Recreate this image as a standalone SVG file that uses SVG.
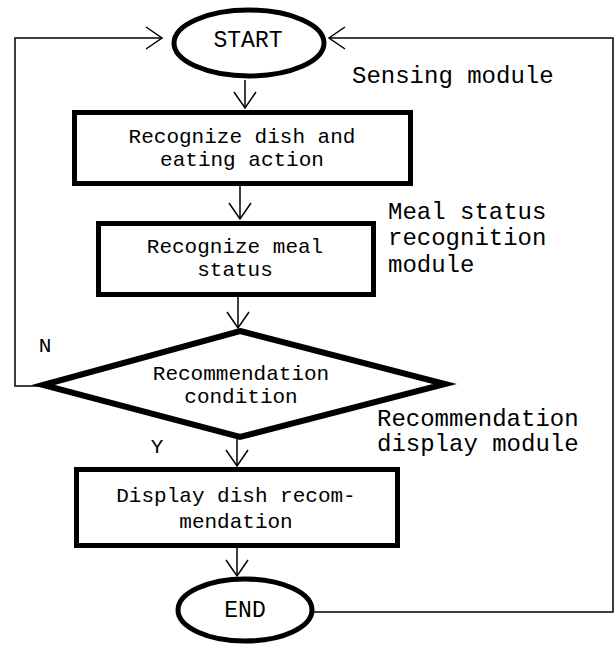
<svg xmlns="http://www.w3.org/2000/svg" width="616" height="646" viewBox="0 0 616 646">
<style>
.bg{fill:#fff}
.shape{fill:#fff;stroke:#000;stroke-width:5}
.dia{fill:#fff;stroke:#000;stroke-width:6;stroke-linejoin:miter}
.conn{fill:none;stroke:#000;stroke-width:1.5}
.t{font-family:"Liberation Mono","Courier New",monospace;font-size:21px;fill:#000;text-anchor:middle}
.tb{font-family:"Liberation Mono","Courier New",monospace;font-size:23px;fill:#000;text-anchor:middle}
.lbl{font-family:"Liberation Mono","Courier New",monospace;font-size:24px;fill:#000}
.yn{font-family:"Liberation Mono","Courier New",monospace;font-size:21px;fill:#000;text-anchor:middle}
</style>
<defs>
<marker id="arr" markerUnits="userSpaceOnUse" markerWidth="20" markerHeight="26" viewBox="-18 -13 20 26" refX="0" refY="0" orient="auto">
<path d="M-16,-11 L0,0 L-16,11" fill="none" stroke="#000" stroke-width="1.5"/>
</marker>
</defs>
<rect class="bg" width="616" height="646"/>
<g id="connectors">
<line class="conn" x1="245" y1="80" x2="245" y2="108" marker-end="url(#arr)"/>
<line class="conn" x1="240" y1="186" x2="240" y2="219" marker-end="url(#arr)"/>
<line class="conn" x1="238" y1="297" x2="238" y2="328" marker-end="url(#arr)"/>
<line class="conn" x1="237" y1="437" x2="237" y2="466" marker-end="url(#arr)"/>
<line class="conn" x1="237" y1="548" x2="237" y2="576" marker-end="url(#arr)"/>
<polyline class="conn" points="39,386 15,386 15,38 162,38" marker-end="url(#arr)"/>
<polyline class="conn" points="314,612 613,612 613,38 329,38" marker-end="url(#arr)"/>
</g>
<g id="start">
<ellipse class="shape" cx="249" cy="43" rx="75" ry="33"/>
<text class="tb" x="248" y="47">START</text>
</g>
<g id="recognize-dish">
<rect class="shape" x="74.5" y="112.5" width="336" height="71"/>
<text class="t" x="242" y="143">Recognize dish and</text>
<text class="t" x="242" y="166">eating action</text>
</g>
<g id="recognize-meal">
<rect class="shape" x="98.5" y="223.5" width="275" height="71"/>
<text class="t" x="235" y="253">Recognize meal</text>
<text class="t" x="235" y="276">status</text>
</g>
<g id="condition">
<polygon class="dia" points="240,331 445,384 240,437 43,385"/>
<text class="t" x="241" y="380">Recommendation</text>
<text class="t" x="241" y="403">condition</text>
</g>
<g id="display">
<rect class="shape" x="76.5" y="469.5" width="321" height="76"/>
<text class="t" x="236" y="502">Display dish recom-</text>
<text class="t" x="236" y="528">mendation</text>
</g>
<g id="end">
<ellipse class="shape" cx="245" cy="610" rx="67" ry="31"/>
<text class="tb" x="245" y="617">END</text>
</g>
<g id="labels">
<text class="yn" x="45" y="352">N</text>
<text class="yn" x="157" y="453">Y</text>
<text class="lbl" x="352" y="83">Sensing module</text>
<text class="lbl" x="388" y="219">Meal status</text>
<text class="lbl" x="388" y="245">recognition</text>
<text class="lbl" x="388" y="272">module</text>
<text class="lbl" x="377" y="426">Recommendation</text>
<text class="lbl" x="377" y="451">display module</text>
</g>
</svg>
